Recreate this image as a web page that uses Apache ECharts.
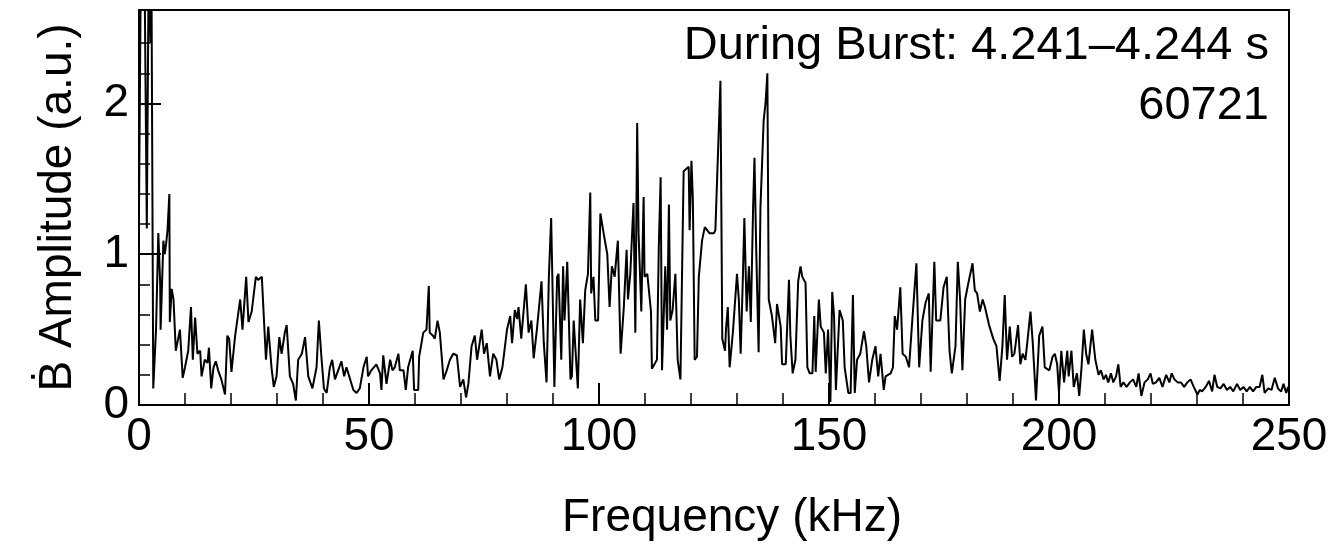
<!DOCTYPE html>
<html>
<head>
<meta charset="utf-8">
<title>Frequency spectrum during burst</title>
<script src="https://cdn.jsdelivr.net/npm/echarts@6/dist/echarts.min.js"></script>
<style>
  html, body { margin: 0; padding: 0; background: #fff; }
  #chart { width: 1341px; height: 552px; }
</style>
</head>
<body>
<div id="chart"></div>
<script>
// Spectrum sample frequencies (kHz)
const freqKHz = [
  0.0,0.4,0.8,1.2,1.7,2.1,2.5,2.7,3.1,
  3.7,4.2,4.6,4.7,5.3,5.6,5.9,6.2,6.6,6.7,7.1,7.5,8.0,8.9,9.5,
  10.0,10.7,11.3,11.7,12.2,12.7,13.3,13.6,14.3,14.9,15.2,15.7,16.2,16.7,17.2,17.9,18.7,19.2,19.6,
  20.1,20.9,22.0,22.5,23.3,23.8,24.5,25.4,25.9,26.7,27.6,28.1,28.8,29.3,29.9,
  30.5,31.0,31.7,32.1,32.8,33.5,34.1,34.6,35.4,36.1,36.8,37.7,38.6,39.1,39.7,
  40.2,40.8,41.5,42.0,42.6,43.3,44.0,44.6,45.1,45.9,46.6,47.3,48.0,48.8,49.5,49.8,
  50.5,51.6,52.4,52.7,53.1,53.8,54.6,55.1,55.6,56.4,56.7,57.5,58.0,58.5,59.5,59.8,
  60.7,60.9,61.8,62.5,63.0,63.2,63.9,64.3,64.9,65.4,66.2,66.9,67.6,68.3,69.1,69.8,
  70.5,71.1,71.6,72.3,73.0,73.5,74.5,75.0,75.6,76.3,77.0,77.7,78.3,79.0,
  80.0,80.7,81.1,81.7,82.2,82.5,83.1,84.1,84.7,85.3,85.8,86.5,87.5,88.0,88.6,89.1,89.6,89.9,
  90.3,90.9,91.2,91.8,92.2,92.5,93.1,93.8,94.1,94.5,95.4,95.9,96.5,97.0,97.6,98.1,98.3,98.8,99.2,99.8,
  100.3,101.0,101.8,102.3,102.8,103.4,104.1,104.7,105.4,106.0,106.3,106.8,107.5,107.9,108.3,108.6,109.2,109.7,109.9,
  110.5,111.3,111.5,112.6,113.0,113.4,113.7,114.4,114.8,115.2,115.5,116.0,116.6,117.1,117.7,118.4,119.5,119.7,
  120.1,120.4,120.8,121.3,121.7,122.4,123.0,123.5,124.0,125.0,125.3,126.4,126.8,127.4,127.6,128.0,128.4,129.1,
  130.0,130.4,130.8,131.3,131.6,132.1,132.6,133.0,133.5,133.8,134.2,134.7,135.1,135.8,136.2,136.6,136.9,137.6,138.3,138.7,139.5,139.8,
  140.6,141.3,141.6,142.1,142.7,143.3,143.8,144.2,144.9,145.3,145.8,146.4,146.8,147.1,147.8,148.2,148.9,149.3,149.8,
  150.3,150.7,151.1,151.5,152.3,153.0,153.4,154.2,154.7,155.2,155.6,156.1,156.8,157.6,158.1,158.7,159.4,
  160.1,160.7,161.2,161.9,162.3,163.4,163.9,164.3,164.8,165.5,166.0,166.7,167.4,168.1,169.0,169.6,
  170.3,171.0,171.7,172.1,172.9,173.3,174.2,174.9,175.6,176.2,176.7,177.5,178.0,178.5,179.0,179.6,
  180.3,181.2,181.7,182.2,182.8,183.4,183.9,184.8,185.7,186.4,187.1,187.7,188.2,188.7,189.3,189.8,
  190.3,191.1,191.6,192.1,192.7,193.3,193.8,194.3,195.0,195.7,196.4,196.9,197.9,198.6,199.1,199.6,
  200.0,200.5,201.1,201.8,202.1,202.7,203.2,203.9,204.4,204.9,205.4,205.9,206.4,207.2,207.9,208.6,209.1,209.7,
  210.2,210.7,211.3,211.8,212.4,212.9,213.4,214.0,214.7,215.4,216.1,216.8,217.3,217.9,218.6,219.3,219.9,
  220.4,221.1,221.8,222.5,223.3,224.0,224.5,225.1,225.8,226.5,227.2,227.9,228.6,229.3,
  230.1,230.6,231.1,231.9,232.6,233.3,233.8,234.4,235.1,235.8,236.5,237.2,237.9,238.7,239.4,
  240.1,240.8,241.5,242.2,242.9,243.6,244.2,244.7,245.5,246.2,246.9,247.6,248.3,248.8,249.4,249.8
];

// B-dot amplitude at each frequency (a.u.)
const amplitude = [
  1.3,2.9,2.8,2.9,1.17,2.9,2.4,2.9,0.11,
  0.5,1.14,0.81,0.5,1.09,1.0,1.07,1.16,1.4,0.55,0.77,0.7,0.36,0.5,0.18,
  0.25,0.36,0.65,0.3,0.58,0.34,0.36,0.19,0.3,0.28,0.38,0.11,0.25,0.29,0.23,0.17,0.07,0.46,0.44,
  0.22,0.46,0.7,0.5,0.85,0.55,0.62,0.85,0.83,0.85,0.3,0.52,0.25,0.12,0.19,
  0.45,0.34,0.48,0.53,0.19,0.14,0.03,0.3,0.34,0.45,0.19,0.11,0.25,0.56,0.3,
  0.11,0.08,0.25,0.3,0.17,0.23,0.29,0.19,0.25,0.17,0.1,0.08,0.11,0.25,0.32,0.19,
  0.23,0.27,0.21,0.1,0.33,0.14,0.3,0.23,0.25,0.34,0.23,0.23,0.1,0.25,0.36,0.1,
  0.1,0.32,0.48,0.5,0.79,0.48,0.46,0.44,0.56,0.48,0.17,0.23,0.3,0.34,0.33,0.12,
  0.17,0.05,0.14,0.39,0.46,0.3,0.5,0.34,0.41,0.19,0.34,0.3,0.17,0.25,
  0.5,0.59,0.41,0.63,0.57,0.65,0.44,0.8,0.48,0.56,0.31,0.5,0.82,0.41,0.15,0.85,1.24,0.78,
  0.12,0.85,0.87,0.3,0.92,0.56,0.95,0.17,0.19,0.56,0.11,0.7,0.41,0.76,0.87,1.41,0.74,0.85,0.56,0.56,
  1.27,1.14,1.0,0.65,0.92,0.85,1.09,0.34,0.65,1.03,0.7,0.87,1.34,0.48,1.87,1.14,0.62,1.38,0.85,
  0.87,0.62,0.24,0.3,1.05,1.51,0.23,0.92,0.5,1.33,0.56,0.63,0.87,0.3,0.17,1.55,1.58,1.16,
  1.62,1.37,0.3,0.32,0.85,1.09,1.18,1.16,1.14,1.14,1.16,2.15,0.44,0.36,0.5,0.65,0.25,0.48,
  0.87,0.7,0.34,0.87,1.24,0.62,0.92,0.55,1.31,1.64,1.0,0.35,1.31,1.89,2.0,2.2,0.7,0.59,0.41,0.67,0.52,0.27,
  0.27,0.83,0.46,0.21,0.3,0.82,0.92,0.85,0.81,0.25,0.21,0.21,0.59,0.22,0.7,0.52,0.48,0.21,0.5,
  0.02,0.75,0.59,0.1,0.63,0.56,0.25,0.08,0.08,0.73,0.08,0.3,0.34,0.49,0.39,0.15,0.3,
  0.39,0.19,0.34,0.1,0.19,0.21,0.25,0.59,0.5,0.78,0.34,0.32,0.25,0.56,0.94,0.25,
  0.56,0.68,0.74,0.22,0.95,0.56,0.56,0.78,0.85,0.36,0.21,0.39,0.95,0.7,0.23,0.7,
  0.81,0.94,0.76,0.74,0.62,0.7,0.65,0.53,0.44,0.39,0.16,0.39,0.73,0.3,0.52,0.32,
  0.34,0.53,0.27,0.34,0.3,0.47,0.62,0.41,0.03,0.46,0.52,0.25,0.23,0.32,0.34,0.27,
  0.08,0.36,0.15,0.36,0.19,0.36,0.12,0.21,0.06,0.25,0.5,0.34,0.27,0.5,0.3,0.2,0.23,0.17,
  0.2,0.15,0.21,0.15,0.19,0.27,0.12,0.15,0.12,0.15,0.17,0.12,0.21,0.06,0.15,0.17,0.21,
  0.14,0.15,0.18,0.12,0.2,0.15,0.21,0.17,0.15,0.15,0.12,0.15,0.17,0.12,
  0.07,0.1,0.09,0.12,0.16,0.09,0.2,0.12,0.11,0.14,0.1,0.12,0.09,0.14,0.1,
  0.12,0.09,0.12,0.09,0.12,0.12,0.2,0.08,0.11,0.1,0.18,0.11,0.09,0.14,0.08,0.12
];

// Axis ticks and labels
const xLabelTicks = [0, 50, 100, 150, 200, 250];
const yLabelTicks = [0, 1, 2];
const yMinorTicks = [0.2, 0.4, 0.6, 0.8, 1.2, 1.4, 1.6, 1.8, 2.2, 2.4];

const titleLine1 = 'During Burst: 4.241\u20134.244 s';
const titleLine2 = '60721';

const FONT = '"Liberation Sans", Arial, Helvetica, sans-serif';
const INK = '#000';

const chart = echarts.init(document.getElementById('chart'), null, { renderer: 'canvas' });

const seriesData = freqKHz.map((f, i) => [f, amplitude[i]]);

chart.setOption({
  animation: false,
  backgroundColor: '#fff',
  grid: {
    left: 139, right: 52, top: 10, bottom: 147,
    show: true, borderColor: INK, borderWidth: 2, backgroundColor: 'transparent'
  },
  xAxis: {
    type: 'value',
    min: 0, max: 250, interval: 50,
    splitLine: { show: false },
    axisLine: { onZero: false, lineStyle: { color: INK, width: 2 } },
    axisTick: { inside: true, length: 22, lineStyle: { color: INK, width: 2 } },
    minorTick: { show: true, splitNumber: 5, length: 12, lineStyle: { color: INK, width: 1.5 } },
    minorSplitLine: { show: false },
    axisLabel: {
      color: INK, fontSize: 46, fontFamily: FONT, margin: 9,
      customValues: xLabelTicks
    },
    name: 'Frequency (kHz)',
    nameLocation: 'middle',
    nameGap: 90,
    nameTextStyle: { color: INK, fontSize: 46, fontFamily: FONT, padding: [0, 0, 0, 36] }
  },
  yAxis: [
    {
      type: 'value',
      min: 0, max: 2.62, interval: 1,
      splitLine: { show: false },
      axisLine: { onZero: false, lineStyle: { color: INK, width: 2 } },
      axisTick: { inside: true, length: 22, lineStyle: { color: INK, width: 2 }, customValues: yLabelTicks },
      axisLabel: {
        color: INK, fontSize: 46, fontFamily: FONT, margin: 10,
        customValues: yLabelTicks
      },
      name: '\u1E02 Amplitude (a.u.)',
      nameLocation: 'middle',
      nameGap: 58,
      nameRotate: 90,
      nameTextStyle: { color: INK, fontSize: 46, fontFamily: FONT }
    },
    {
      type: 'value',
      min: 0, max: 2.62,
      position: 'left',
      splitLine: { show: false },
      axisLine: { show: false },
      axisTick: { inside: true, length: 11, lineStyle: { color: INK, width: 1.5 }, customValues: yMinorTicks },
      axisLabel: { show: false }
    }
  ],
  graphic: [
    {
      type: 'text', right: 72, top: 23, silent: true,
      style: { text: titleLine1, fill: INK, font: '47px ' + FONT }
    },
    {
      type: 'text', right: 72, top: 83, silent: true,
      style: { text: titleLine2, fill: INK, font: '47px ' + FONT }
    }
  ],
  series: [{
    type: 'line',
    data: seriesData,
    showSymbol: false,
    symbol: 'none',
    clip: true,
    lineStyle: { color: INK, width: 2 },
    emphasis: { disabled: true }
  }]
});
</script>
</body>
</html>
